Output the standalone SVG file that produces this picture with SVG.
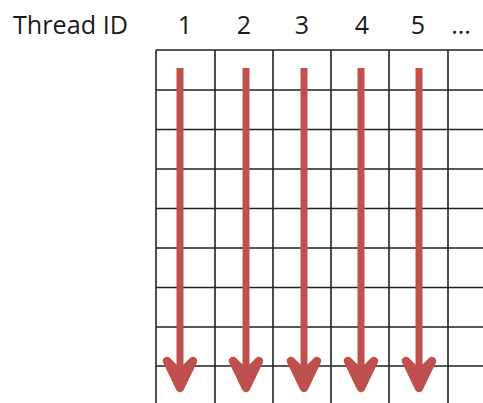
<svg xmlns="http://www.w3.org/2000/svg" width="483" height="403" viewBox="0 0 483 403">
<style>
.t{font-family:"Open Sans","Liberation Sans",Arial,sans-serif;font-size:25px;fill:#1a1a1a}
.g{stroke:#222;stroke-width:1.6;fill:none}
.a{stroke:#C0504D;stroke-width:7;fill:none;stroke-linecap:butt}
.h{stroke:#C0504D;stroke-width:8.5;fill:#C0504D;stroke-linecap:round;stroke-linejoin:round}
</style>
<rect width="483" height="403" fill="#fff"/>
<g id="labels">
<text class="t" x="13" y="34" textLength="115" lengthAdjust="spacingAndGlyphs">Thread ID</text>
<text class="t" x="185" y="34" text-anchor="middle">1</text>
<text class="t" x="244" y="34" text-anchor="middle">2</text>
<text class="t" x="302" y="34" text-anchor="middle">3</text>
<text class="t" x="362" y="34" text-anchor="middle">4</text>
<text class="t" x="418" y="34" text-anchor="middle">5</text>
<text class="t" x="461" y="34" text-anchor="middle">...</text>
</g>
<g id="grid" class="g">
<path d="M156 50V403M215 50V403M273 50V403M331 50V403M389 50V403M448 50V403"/>
<path d="M156 50H483M156 90H483M156 129.5H483M156 169H483M156 208.5H483M156 248H483M156 287.5H483M156 327H483M156 366H483"/>
</g>
<g id="connectors">
<g id="arrow1"><path class="a" d="M180 68V384"/><path class="h" d="M167 361L180 388L193 361L180 374Z"/></g>
<g id="arrow2"><path class="a" d="M246 68V384"/><path class="h" d="M233 361L246 388L259 361L246 374Z"/></g>
<g id="arrow3"><path class="a" d="M304 68V384"/><path class="h" d="M291 361L304 388L317 361L304 374Z"/></g>
<g id="arrow4"><path class="a" d="M361 68V384"/><path class="h" d="M348 361L361 388L374 361L361 374Z"/></g>
<g id="arrow5"><path class="a" d="M419 68V384"/><path class="h" d="M406 361L419 388L432 361L419 374Z"/></g>
</g>
</svg>
